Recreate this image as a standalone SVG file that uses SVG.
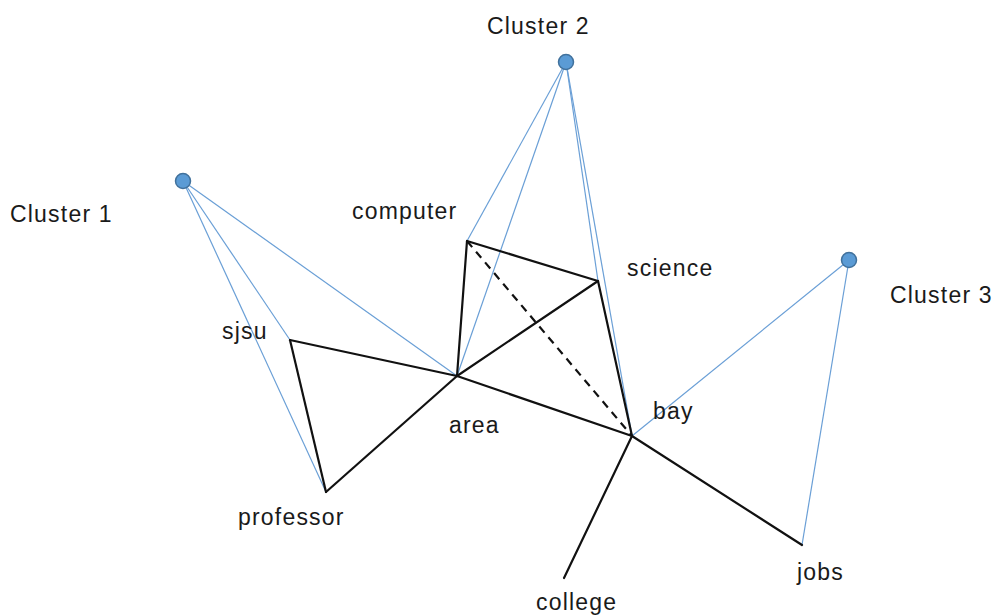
<svg xmlns="http://www.w3.org/2000/svg" width="1000" height="615" viewBox="0 0 1000 615">
  <style>
    .bg { fill: #ffffff; }
    .lbl { font-family: "Liberation Sans", Arial, sans-serif; font-size: 23px; letter-spacing: 1.2px; fill: #1a1a1a; }
    .blue { stroke: #6a9fd6; stroke-width: 1.2; fill: none; }
    .edge { stroke: #111111; stroke-width: 2.2; fill: none; stroke-linecap: round; }
    .dash { stroke-dasharray: 8 6; stroke-linecap: butt; }
    .centroid { fill: #5b9bd5; stroke: #41719c; stroke-width: 1.5; }
  </style>
  <rect class="bg" x="0" y="0" width="1000" height="615"/>

  <g id="connectors">
    <!-- cluster membership links -->
    <line class="blue" x1="183" y1="181" x2="290" y2="340"/>
    <line class="blue" x1="183" y1="181" x2="326" y2="492"/>
    <line class="blue" x1="183" y1="181" x2="457" y2="376"/>
    <line class="blue" x1="566" y1="62" x2="467" y2="241"/>
    <line class="blue" x1="566" y1="62" x2="457" y2="376"/>
    <line class="blue" x1="566" y1="62" x2="598" y2="281"/>
    <line class="blue" x1="566" y1="62" x2="632" y2="436"/>
    <line class="blue" x1="849" y1="260" x2="632" y2="436"/>
    <line class="blue" x1="849" y1="260" x2="802" y2="545"/>
    <!-- word graph edges -->
    <line class="edge" x1="467" y1="241" x2="457" y2="376"/>
    <line class="edge" x1="467" y1="241" x2="598" y2="281"/>
    <line class="edge" x1="457" y1="376" x2="598" y2="281"/>
    <line class="edge dash" x1="467" y1="241" x2="632" y2="436"/>
    <line class="edge" x1="598" y1="281" x2="632" y2="436"/>
    <line class="edge" x1="290" y1="340" x2="457" y2="376"/>
    <line class="edge" x1="290" y1="340" x2="326" y2="492"/>
    <line class="edge" x1="326" y1="492" x2="457" y2="376"/>
    <line class="edge" x1="457" y1="376" x2="632" y2="436"/>
    <line class="edge" x1="632" y1="436" x2="564" y2="578"/>
    <line class="edge" x1="632" y1="436" x2="802" y2="545"/>
  </g>

  <g id="cluster1">
    <circle class="centroid" cx="183" cy="181" r="7.5"/>
    <text class="lbl" x="10" y="222">Cluster 1</text>
  </g>
  <g id="cluster2">
    <circle class="centroid" cx="566" cy="62" r="7.5"/>
    <text class="lbl" x="487" y="34">Cluster 2</text>
  </g>
  <g id="cluster3">
    <circle class="centroid" cx="849" cy="260" r="7.5"/>
    <text class="lbl" x="890" y="303">Cluster 3</text>
  </g>
  <g id="computer"><text class="lbl" x="352" y="219">computer</text></g>
  <g id="science"><text class="lbl" x="627" y="276">science</text></g>
  <g id="sjsu"><text class="lbl" x="222" y="339">sjsu</text></g>
  <g id="area"><text class="lbl" x="449" y="433">area</text></g>
  <g id="bay"><text class="lbl" x="653" y="419">bay</text></g>
  <g id="professor"><text class="lbl" x="238" y="525">professor</text></g>
  <g id="college"><text class="lbl" x="536" y="610">college</text></g>
  <g id="jobs"><text class="lbl" x="797" y="580">jobs</text></g>
</svg>
